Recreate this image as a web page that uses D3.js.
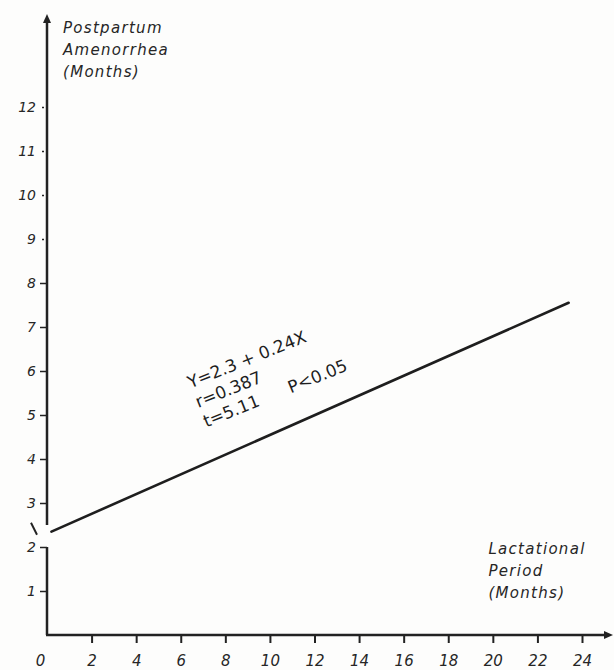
<!DOCTYPE html>
<html>
<head>
<meta charset="utf-8">
<script src="https://cdn.jsdelivr.net/npm/d3@7"></script>
<style>
    body { margin: 0; background: #fdfdfc; }
    svg { display: block; }
    .tick text { font-family: 'DejaVu Sans', sans-serif; font-style: italic; fill: #262626; }
    .axis-title { font-family: 'DejaVu Sans', sans-serif; font-style: italic; fill: #262626; font-size: 15px; letter-spacing: 1.3px; }
    .equation { font-family: 'DejaVu Sans', sans-serif; fill: #1e1e1e; font-size: 17px; white-space: pre; }
</style>
</head>
<body>
<div id="chart"></div>
<script>
// Values
const xTicks = [0, 2, 4, 6, 8, 10, 12, 14, 16, 18, 20, 22, 24]
const yTicks = [1, 2, 3, 4, 5, 6, 7, 8, 9, 10, 11, 12]
const fitLine = [{x: 0.2, y: 2.35}, {x: 23.4, y: 7.55}]
const equationLines = ['Y=2.3 + 0.24X', 'r=0.387', 't=5.11      P<0.05']
const yAxisTitle = ['Postpartum', 'Amenorrhea', '(Months)']
const xAxisTitle = ['Lactational', 'Period', '(Months)']

class RegressionPlot {
    constructor(_config) {
        this.config = {
            parentElement: _config.parentElement,
            containerWidth: _config.containerWidth,
            containerHeight: _config.containerHeight,
            margin: {top: 107, right: 32, bottom: 35, left: 47},
            breakLow: 2.0,
            breakHigh: 2.5
        }
        this.initVis()
    }

    initVis() {
        let vis = this

        vis.width = vis.config.containerWidth - vis.config.margin.left - vis.config.margin.right
        vis.height = vis.config.containerHeight - vis.config.margin.top - vis.config.margin.bottom

        vis.svg = d3.select(vis.config.parentElement)
            .append('svg')
            .attr('width', vis.config.containerWidth)
            .attr('height', vis.config.containerHeight)

        vis.chart = vis.svg.append('g')
            .attr('transform', `translate(${vis.config.margin.left}, ${vis.config.margin.top})`)

        // 0..24 months across, 0..12 months up
        vis.x = d3.scaleLinear().domain([0, 24]).range([0, 535])
        vis.y = d3.scaleLinear().domain([0, 12]).range([vis.height, 0])

        vis.renderAxes()
        vis.renderVis()
        vis.renderLabels()
    }

    renderAxes() {
        let vis = this
        const ink = '#222'

        // x axis with ticks hanging below
        const xAxis = d3.axisBottom(vis.x)
            .tickValues(xTicks)
            .tickSize(8)
            .tickPadding(12)
            .tickFormat(d3.format('d'))

        const xg = vis.chart.append('g')
            .attr('transform', `translate(0, ${vis.height})`)
            .call(xAxis)
        xg.select('.domain').remove()
        xg.selectAll('.tick line').attr('stroke', ink).attr('stroke-width', 2)
            .filter(d => d === 0).remove()
        xg.selectAll('.tick text').attr('font-size', 15)
            .filter(d => d === 0).attr('dx', -7)

        // y axis, ticks on the left
        const yAxis = d3.axisLeft(vis.y)
            .tickValues(yTicks)
            .tickSize(7)
            .tickPadding(4)
            .tickFormat(d3.format('d'))

        const yg = vis.chart.append('g').call(yAxis)
        yg.select('.domain').remove()
        yg.selectAll('.tick line').attr('stroke', ink).attr('stroke-width', 1.5)
        // upper ticks are only faint dots in the scan
        yg.selectAll('.tick line').filter(d => d >= 9)
            .attr('x1', -5).attr('x2', -3).attr('stroke-width', 1.5)
        yg.selectAll('.tick text').attr('font-size', 14)

        // axis lines drawn by hand because of the break near 2
        vis.chart.append('line')
            .attr('x1', vis.x(0)).attr('x2', vis.x(0))
            .attr('y1', vis.y(0)).attr('y2', vis.y(vis.config.breakLow))
            .attr('stroke', ink).attr('stroke-width', 2.5)
        vis.chart.append('line')
            .attr('x1', vis.x(0)).attr('x2', vis.x(0))
            .attr('y1', vis.y(vis.config.breakHigh)).attr('y2', -88)
            .attr('stroke', ink).attr('stroke-width', 2.5)
        vis.chart.append('line')
            .attr('x1', vis.x(0) - 16).attr('x2', vis.x(0) - 10)
            .attr('y1', vis.y(2.55)).attr('y2', vis.y(2.28))
            .attr('stroke', ink).attr('stroke-width', 2)

        vis.chart.append('line')
            .attr('x1', vis.x(0) - 1).attr('x2', vis.x(24) + 26)
            .attr('y1', vis.y(0)).attr('y2', vis.y(0))
            .attr('stroke', ink).attr('stroke-width', 2.5)

        // arrow heads
        const tipX = vis.x(24) + 31
        vis.chart.append('path')
            .attr('d', `M${tipX},${vis.y(0)} l-9,-4 l0,8 z`)
            .attr('fill', ink)
        vis.chart.append('path')
            .attr('d', `M${vis.x(0)},-93 l-4,9 l8,0 z`)
            .attr('fill', ink)
    }

    renderVis() {
        let vis = this

        const line = d3.line()
            .x(d => vis.x(d.x))
            .y(d => vis.y(d.y))

        vis.chart.append('path')
            .datum(fitLine)
            .attr('d', line)
            .attr('fill', 'none')
            .attr('stroke', '#1e1e1e')
            .attr('stroke-width', 2.6)
            .attr('stroke-linecap', 'round')
    }

    renderLabels() {
        let vis = this

        // regression annotation, tilted along the fitted line
        const eq = vis.chart.append('g')
            .attr('transform', `translate(${vis.x(6.3) + 3}, ${vis.y(5.6)}) rotate(-22)`)
        eq.selectAll('text')
            .data(equationLines)
            .join('text')
            .attr('class', 'equation')
            .attr('x', 0)
            .attr('y', (d, i) => i * 21)
            .text(d => d)

        vis.chart.append('g')
            .selectAll('text')
            .data(yAxisTitle)
            .join('text')
            .attr('class', 'axis-title')
            .attr('x', vis.x(0) + 16)
            .attr('y', (d, i) => -74 + i * 22)
            .text(d => d)

        vis.chart.append('g')
            .selectAll('text')
            .data(xAxisTitle)
            .join('text')
            .attr('class', 'axis-title')
            .attr('x', vis.x(19.8))
            .attr('y', (d, i) => vis.y(1.85) + i * 22)
            .text(d => d)
    }
}

new RegressionPlot({parentElement: '#chart', containerWidth: 614, containerHeight: 670})
</script>
</body>
</html>
